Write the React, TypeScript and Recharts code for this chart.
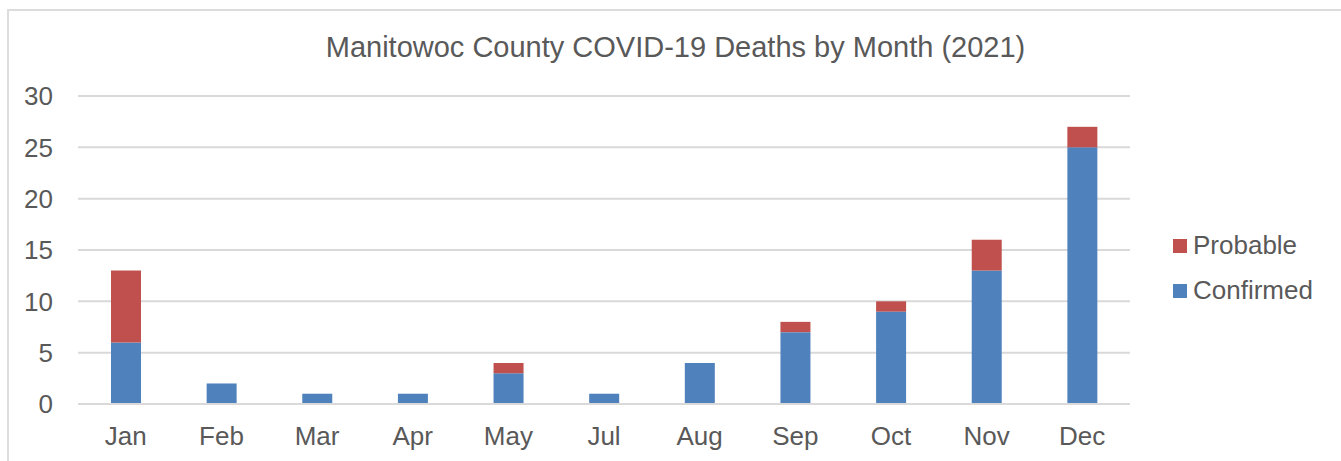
import React from 'react';
import {
  BarChart,
  Bar,
  XAxis,
  YAxis,
  CartesianGrid,
  Legend,
} from 'recharts';

const months = ['Jan', 'Feb', 'Mar', 'Apr', 'May', 'Jul', 'Aug', 'Sep', 'Oct', 'Nov', 'Dec'];
const confirmed = [6, 2, 1, 1, 3, 1, 4, 7, 9, 13, 25];
const probable = [7, 0, 0, 0, 1, 0, 0, 1, 1, 3, 2];
const yTicks = [0, 5, 10, 15, 20, 25, 30];

const FONT = '"Liberation Sans", Arial, sans-serif';
const TEXT = '#595959';

const data = months.map((m, i) => ({
  month: m,
  Confirmed: confirmed[i],
  Probable: probable[i],
}));

function LegendBox(props: any) {
  const items = [...(props.payload || [])].reverse();
  return (
    <div style={{ fontFamily: FONT, fontSize: 26, color: TEXT }}>
      {items.map((it: any) => (
        <div key={it.value} style={{ display: 'flex', alignItems: 'center', height: 45 }}>
          <span style={{ width: 14, height: 14, background: it.color, marginRight: 6, display: 'inline-block' }} />
          <span>{it.value}</span>
        </div>
      ))}
    </div>
  );
}

export default function App() {
  return (
    <div style={{ position: 'absolute', left: 0, top: 0, width: 1341, height: 461, background: '#fff', overflow: 'hidden' }}>
      <div
        style={{
          position: 'absolute',
          left: 7,
          top: 9,
          width: 1360,
          height: 470,
          border: '2px solid #dcdcdc',
          boxSizing: 'border-box',
        }}
      />
      <div
        style={{
          position: 'absolute',
          left: 0,
          top: 33,
          width: 1351,
          textAlign: 'center',
          fontFamily: FONT,
          fontSize: 29,
          lineHeight: '29px',
          color: TEXT,
          whiteSpace: 'nowrap',
        }}
      >
        Manitowoc County COVID-19 Deaths by Month (2021)
      </div>
      <div style={{ position: 'absolute', left: 0, top: 0 }}>
        <BarChart
          width={1341}
          height={461}
          data={data}
          margin={{ top: 96, right: 61, bottom: 27, left: 0 }}
        >
          <CartesianGrid vertical={false} stroke="#d9d9d9" strokeWidth={2} />
          <XAxis
            dataKey="month"
            axisLine={{ stroke: '#d9d9d9', strokeWidth: 2 }}
            tickLine={false}
            tickSize={0}
            tickMargin={23}
            tick={{ fill: TEXT, fontSize: 26, fontFamily: FONT }}
            interval={0}
          />
          <YAxis
            width={78}
            domain={[0, 30]}
            ticks={yTicks}
            axisLine={false}
            tickLine={false}
            tickSize={0}
            tickMargin={25}
            tick={{ fill: TEXT, fontSize: 26, fontFamily: FONT }}
          />
          <Legend
            layout="vertical"
            align="right"
            verticalAlign="middle"
            content={<LegendBox />}
            wrapperStyle={{ width: 150, left: 1173, top: 223 }}
          />
          <Bar dataKey="Confirmed" stackId="a" fill="#4F81BD" barSize={30} isAnimationActive={false} />
          <Bar dataKey="Probable" stackId="a" fill="#C0504D" barSize={30} isAnimationActive={false} />
        </BarChart>
      </div>
    </div>
  );
}
